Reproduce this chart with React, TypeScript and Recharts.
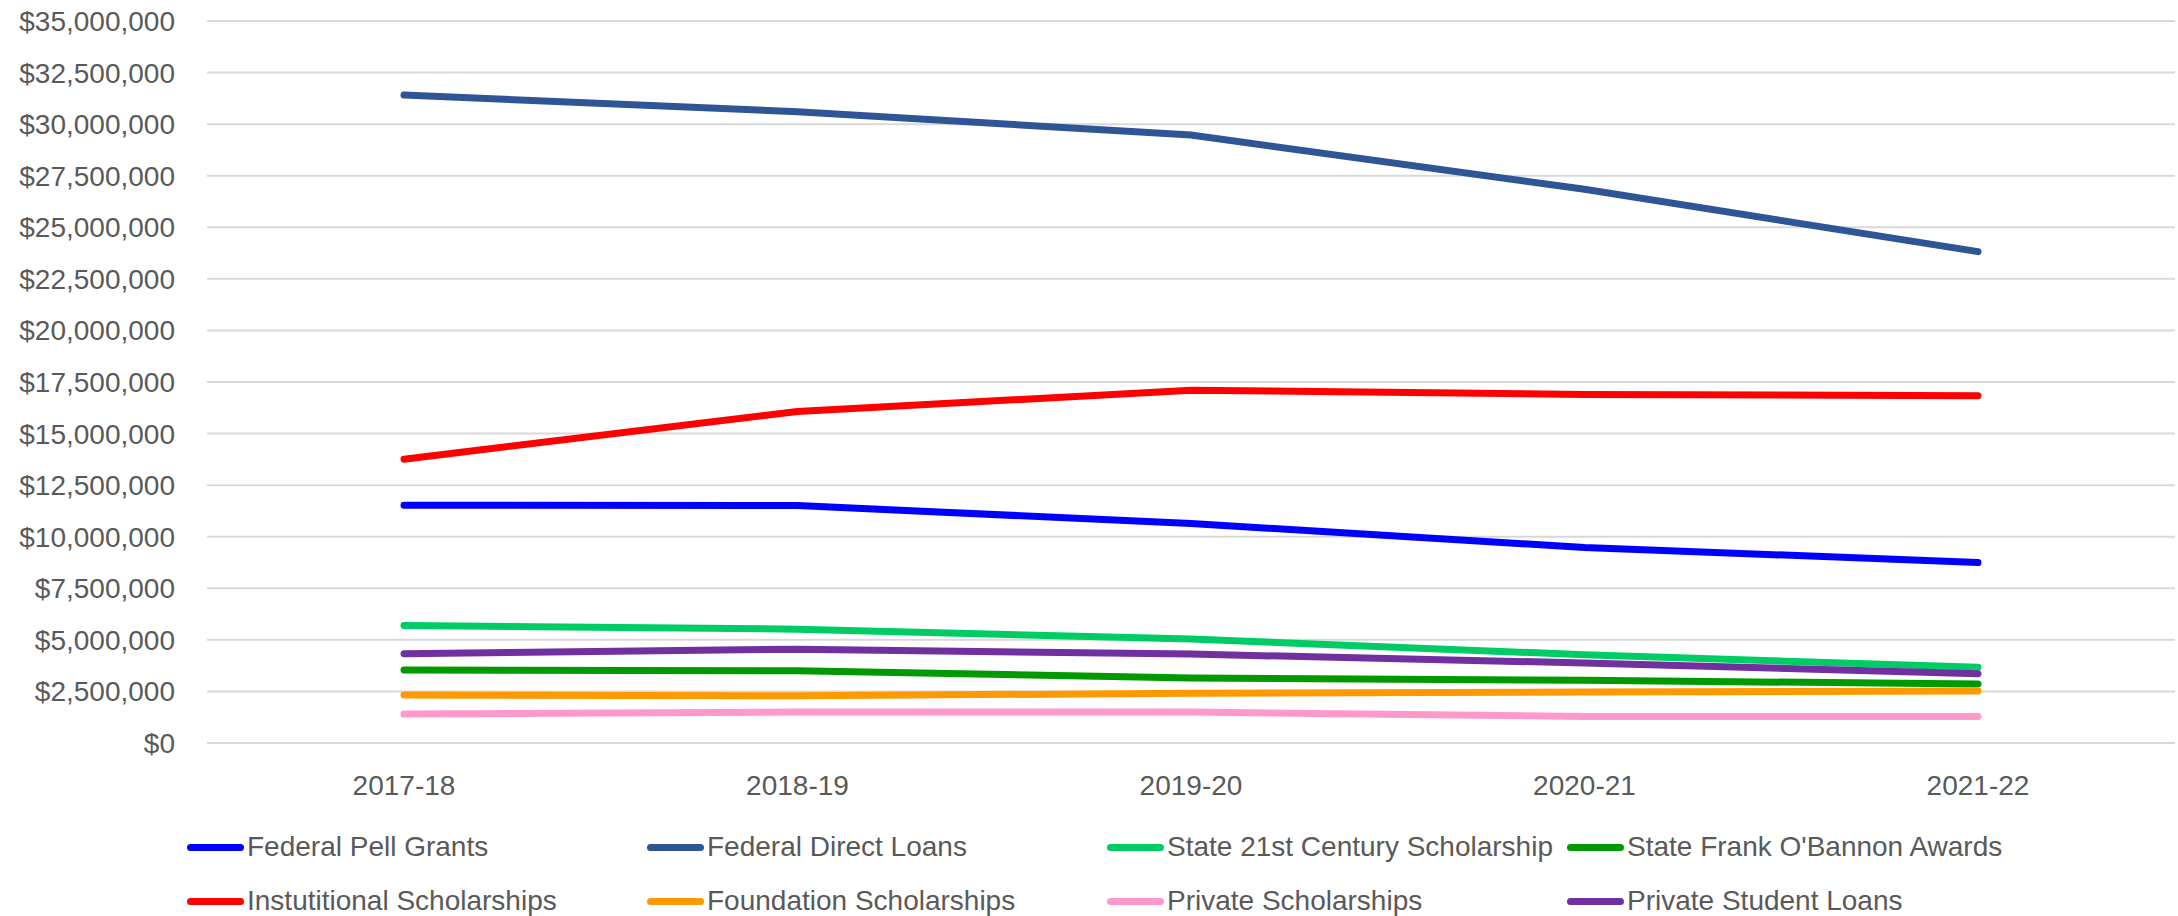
import React from 'react';
import {
  LineChart,
  Line,
  XAxis,
  YAxis,
  CartesianGrid,
  Legend
} from 'recharts';

// award years
const years = ['2017-18', '2018-19', '2019-20', '2020-21', '2021-22'];

// dollars per year
const pellGrants = [11530000, 11510000, 10640000, 9480000, 8750000];
const directLoans = [31410000, 30600000, 29470000, 26840000, 23820000];
const state21st = [5700000, 5520000, 5040000, 4280000, 3670000];
const oBannon = [3540000, 3500000, 3150000, 3040000, 2860000];
const institutional = [13760000, 16070000, 17100000, 16900000, 16830000];
const foundation = [2330000, 2290000, 2410000, 2470000, 2520000];
const privateScholarships = [1400000, 1500000, 1500000, 1290000, 1290000];
const privateLoans = [4330000, 4550000, 4310000, 3880000, 3360000];

const yTicks = [0, 2500000, 5000000, 7500000, 10000000, 12500000, 15000000, 17500000,
  20000000, 22500000, 25000000, 27500000, 30000000, 32500000, 35000000];

const series = [
  { key: 'pell', name: 'Federal Pell Grants', color: '#0000FF', values: pellGrants },
  { key: 'direct', name: 'Federal Direct Loans', color: '#2F5597', values: directLoans },
  { key: 'state21', name: 'State 21st Century Scholarship', color: '#00CC66', values: state21st },
  { key: 'obannon', name: "State Frank O'Bannon Awards", color: '#009900', values: oBannon },
  { key: 'inst', name: 'Instutitional Scholarships', color: '#FF0000', values: institutional },
  { key: 'found', name: 'Foundation Scholarships', color: '#FF9900', values: foundation },
  { key: 'privSch', name: 'Private Scholarships', color: '#FF99CC', values: privateScholarships },
  { key: 'privLoan', name: 'Private Student Loans', color: '#7030A0', values: privateLoans }
];

const data = years.map((year, i) => {
  const row: any = { year };
  series.forEach(s => { row[s.key] = s.values[i]; });
  return row;
});

const FONT = '"Liberation Sans", Arial, sans-serif';
const TEXT = '#595959';

const money = (v: number) => '$' + v.toLocaleString('en-US');

// two rows of four, Excel style
const renderLegend = () => (
  <div style={{ position: 'relative', width: 2178, height: 100, fontFamily: FONT }}>
    {series.map((s, i) => {
      const col = i % 4;
      const row = Math.floor(i / 4);
      return (
        <div
          key={s.key}
          style={{
            position: 'absolute',
            left: 187 + col * 460,
            top: 13 + row * 54,
            display: 'flex',
            alignItems: 'center',
            whiteSpace: 'nowrap'
          }}
        >
          <span style={{ display: 'inline-block', width: 57, height: 7, borderRadius: 4, background: s.color, marginRight: 3 }} />
          <span style={{ fontSize: 28, color: TEXT, lineHeight: '36px' }}>{s.name}</span>
        </div>
      );
    })}
  </div>
);

export default function App() {
  return (
    <div style={{ position: 'absolute', left: 0, top: 0, width: 2178, height: 916, background: '#fff' }}>
      <LineChart
        width={2178}
        height={916}
        data={data}
        margin={{ top: 21, right: 3, left: 0, bottom: 13 }}
      >
        <CartesianGrid vertical={false} stroke="#D9D9D9" strokeWidth={2} />
        <XAxis
          dataKey="year"
          height={60}
          axisLine={false}
          tickLine={false}
          tickSize={0}
          tickMargin={32}
          padding={{ left: 197, right: 197 }}
          tick={{ fill: TEXT, fontSize: 28, fontFamily: FONT }}
        />
        <YAxis
          width={207}
          domain={[0, 35000000]}
          ticks={yTicks}
          interval={0}
          axisLine={false}
          tickLine={false}
          tickSize={0}
          tickMargin={32}
          tickFormatter={money}
          tick={{ fill: TEXT, fontSize: 28, fontFamily: FONT }}
        />
        <Legend
          verticalAlign="bottom"
          height={100}
          content={renderLegend}
          wrapperStyle={{ left: 0, bottom: 0, width: 2178, height: 100 }}
        />
        {series.map(s => (
          <Line
            key={s.key}
            type="linear"
            dataKey={s.key}
            name={s.name}
            stroke={s.color}
            strokeWidth={7}
            strokeLinecap="round"
            dot={false}
            activeDot={false}
            isAnimationActive={false}
          />
        ))}
      </LineChart>
    </div>
  );
}
